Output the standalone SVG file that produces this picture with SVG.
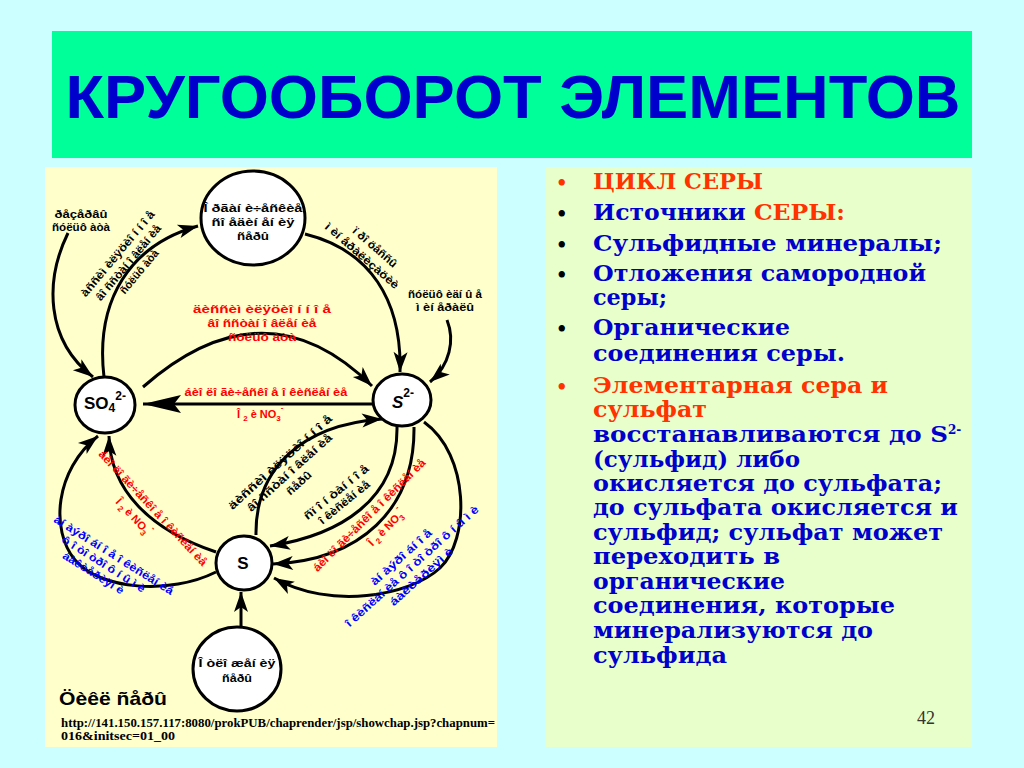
<svg xmlns="http://www.w3.org/2000/svg" width="1024" height="768" viewBox="0 0 1024 768">
<defs>
<style>
.t{font-family:"Liberation Sans",Arial,sans-serif;font-weight:bold;font-size:11px}
.k{fill:#000}.r{fill:#f00}.b{fill:#00f}
.c{fill:none;stroke:#000;stroke-width:3}
.n{fill:#fff;stroke:#000;stroke-width:3}
.rt{font-family:"DejaVu Serif","Liberation Serif",serif;font-weight:bold;font-size:22px;fill:#0000cc}
.o{fill:#ff3300}
.bu{font-family:"DejaVu Serif",serif;font-weight:bold;font-size:18px}
</style>
<marker id="ah" markerUnits="userSpaceOnUse" viewBox="0 0 30 20" markerWidth="30" markerHeight="20" refX="22" refY="8" orient="auto" overflow="visible"><path d="M22,8 L2,1 L7,8 L2,15 Z" fill="#000"/></marker>
<marker id="ahb" markerUnits="userSpaceOnUse" viewBox="0 0 44 20" markerWidth="44" markerHeight="20" refX="40" refY="10" orient="auto" overflow="visible"><path d="M40,10 L2,1 L9,10 L2,19 Z" fill="#000"/></marker>
</defs>
<rect x="0" y="0" width="1024" height="768" fill="#ccffff"/>
<g id="title">
<rect x="52" y="31" width="920" height="127" fill="#00ff99"/>
<text x="513" y="118" text-anchor="middle" textLength="895" lengthAdjust="spacingAndGlyphs" style="font-family:'Liberation Sans',Arial,sans-serif;font-weight:bold;font-size:61px;fill:#0000cc">КРУГООБОРОТ ЭЛЕМЕНТОВ</text>
</g>
<rect id="left-panel" x="45" y="167" width="452" height="580" fill="#ffffcc"/>
<rect id="right-panel" x="546" y="167" width="426" height="580" fill="#e8ffcc"/>

<g id="connectors">
<path class="c" d="M68 233 C45 280 45 340 93 377" marker-end="url(#ah)"/>
<path class="c" d="M104 377 C95 300 130 245 198 226" marker-end="url(#ah)"/>
<path class="c" d="M305 234 C370 250 402 300 400 372" marker-end="url(#ah)"/>
<path class="c" d="M447 320 C455 340 450 365 430 382" marker-end="url(#ah)"/>
<path class="c" d="M143 387 Q265 280 372 386" marker-end="url(#ah)"/>
<path class="c" d="M372 404 L143 404" marker-end="url(#ahb)"/>
<path class="c" d="M216 552 C150 530 110 490 109 436" marker-end="url(#ah)"/>
<path class="c" d="M216 572 C170 595 100 590 75 560 C50 530 55 470 98 436" marker-end="url(#ah)"/>
<path class="c" d="M256 535 C255 470 300 425 382 419" marker-end="url(#ah)"/>
<path class="c" d="M397 427 C398 500 340 535 270 546" marker-end="url(#ah)"/>
<path class="c" d="M414 427 C415 510 360 560 273 564" marker-end="url(#ah)"/>
<path class="c" d="M424 422 C470 455 470 540 440 568 C410 596 330 610 274 578" marker-end="url(#ah)"/>
<path class="c" d="M241 627 L241 592" marker-end="url(#ah)"/>
</g>

<g id="connector-labels" class="t">
<text class="k" x="81" y="218" text-anchor="middle" textLength="53" lengthAdjust="spacingAndGlyphs">ðåçåðâû</text>
<text class="k" x="81" y="231" text-anchor="middle" textLength="58" lengthAdjust="spacingAndGlyphs">ñóëüô àòà</text>
<g transform="translate(117.5,253.5) rotate(-50)">
<text class="k" x="0" y="4" text-anchor="middle" textLength="108" lengthAdjust="spacingAndGlyphs">àññèì èëÿöèî í í î å</text>
<text class="k" x="0" y="18" text-anchor="middle" textLength="95" lengthAdjust="spacingAndGlyphs">âî ññòàí î âëåí èå</text>
<text class="k" x="0" y="32" text-anchor="middle" textLength="54" lengthAdjust="spacingAndGlyphs">ñóëüô àòà</text>
</g>
<g transform="translate(375,247) rotate(41)">
<text class="k" x="0" y="4" text-anchor="middle" textLength="55" lengthAdjust="spacingAndGlyphs">ï ðî öåññû</text>
<text class="k" x="-4" y="19" text-anchor="middle" textLength="94" lengthAdjust="spacingAndGlyphs">ì èí åðàëèçàöèè</text>
</g>
<text class="k" x="445" y="298" text-anchor="middle" textLength="74" lengthAdjust="spacingAndGlyphs">ñóëüô èäí û å</text>
<text class="k" x="445" y="311" text-anchor="middle" textLength="58" lengthAdjust="spacingAndGlyphs">ì èí åðàëû</text>
<text class="r" x="262" y="313" text-anchor="middle" textLength="138" lengthAdjust="spacingAndGlyphs">äèññèì èëÿöèî í í î å</text>
<text class="r" x="262" y="327" text-anchor="middle" textLength="109" lengthAdjust="spacingAndGlyphs">âî ññòàí î âëåí èå</text>
<text class="r" x="262" y="341" text-anchor="middle" textLength="68" lengthAdjust="spacingAndGlyphs">ñóëüô àòà</text>
<text class="r" x="266" y="396" text-anchor="middle" textLength="163" lengthAdjust="spacingAndGlyphs">áèî ëî ãè÷åñêî å î êèñëåí èå</text>
<text class="r" x="237" y="418">Î <tspan dy="3" font-size="8">2</tspan><tspan dy="-3"> è NO</tspan><tspan dy="3" font-size="8">3</tspan><tspan dy="-11" font-size="8">-</tspan></text>
<g transform="translate(153,508) rotate(47)">
<text class="r" x="0" y="4" text-anchor="middle" textLength="153" lengthAdjust="spacingAndGlyphs">áèî ëî ãè÷åñêî å î êèñëåí èå</text>
<text class="r" x="-30" y="24">Î <tspan dy="3" font-size="8">2</tspan><tspan dy="-3"> è NO</tspan><tspan dy="3" font-size="8">3</tspan><tspan dy="-11" font-size="8">-</tspan></text>
</g>
<g transform="translate(114,555) rotate(32)">
<text class="b" x="0" y="4" text-anchor="middle" textLength="139" lengthAdjust="spacingAndGlyphs">àí àýðî áí î å î êèñëåí èå</text>
<text class="b" x="-4" y="17" text-anchor="middle" textLength="96" lengthAdjust="spacingAndGlyphs">ô î òî òðî ô í û ì è</text>
<text class="b" x="-8" y="30" text-anchor="middle" textLength="70" lengthAdjust="spacingAndGlyphs">áàêòåðèÿì è</text>
</g>
<g transform="translate(280,462) rotate(-42)">
<text class="k" x="0" y="4" text-anchor="middle" textLength="135" lengthAdjust="spacingAndGlyphs">äèññèì èëÿöèî í í î å</text>
<text class="k" x="0" y="18" text-anchor="middle" textLength="110" lengthAdjust="spacingAndGlyphs">âî ññòàí î âëåí èå</text>
<text class="k" x="0" y="32" text-anchor="middle" textLength="30" lengthAdjust="spacingAndGlyphs">ñåðû</text>
</g>
<g transform="translate(336,492) rotate(-39)">
<text class="k" x="0" y="4" text-anchor="middle" textLength="80" lengthAdjust="spacingAndGlyphs">ñï î í òàí í î å</text>
<text class="k" x="0" y="17" text-anchor="middle" textLength="62" lengthAdjust="spacingAndGlyphs">î êèñëåí èå</text>
</g>
<g transform="translate(369,515) rotate(-45)">
<text class="r" x="0" y="4" text-anchor="middle" textLength="154" lengthAdjust="spacingAndGlyphs">áèî ëî ãè÷åñêî å î êèñëåí èå</text>
<text class="r" x="-20" y="25">Î <tspan dy="3" font-size="8">2</tspan><tspan dy="-3"> è NO</tspan><tspan dy="3" font-size="8">3</tspan><tspan dy="-11" font-size="8">-</tspan></text>
</g>
<g transform="translate(401,557) rotate(-42)">
<text class="b" x="0" y="4" text-anchor="middle" textLength="78" lengthAdjust="spacingAndGlyphs">àí àýðî áí î å</text>
<text class="b" x="2" y="18" text-anchor="middle" textLength="175" lengthAdjust="spacingAndGlyphs">î êèñëåí èå ô î òî òðî ô í û ì è</text>
<text class="b" x="2" y="32" text-anchor="middle" textLength="81" lengthAdjust="spacingAndGlyphs">áàêòåðèÿì è</text>
</g>
</g>

<g id="node-organic" class="t">
<ellipse class="n" cx="253" cy="218" rx="52" ry="47"/>
<text class="k" x="253" y="212" text-anchor="middle" textLength="99" lengthAdjust="spacingAndGlyphs">Î ðãàí è÷åñêèå</text>
<text class="k" x="253" y="226" text-anchor="middle" textLength="83" lengthAdjust="spacingAndGlyphs">ñî åäèí åí èÿ</text>
<text class="k" x="253" y="240" text-anchor="middle" textLength="32" lengthAdjust="spacingAndGlyphs">ñåðû</text>
</g>
<g id="node-so4" class="t">
<ellipse class="n" cx="105" cy="405" rx="30" ry="28"/>
<text class="k" x="84" y="409" font-size="17">SO<tspan font-size="12" dy="3">4</tspan><tspan font-size="12" dy="-12">2-</tspan></text>
</g>
<g id="node-s2" class="t">
<ellipse class="n" cx="402" cy="400" rx="29" ry="26"/>
<text class="k" x="392" y="408" font-size="17" font-style="italic">S<tspan font-size="12" font-style="normal" dy="-11">2-</tspan></text>
</g>
<g id="node-s" class="t">
<ellipse class="n" cx="244" cy="563" rx="28" ry="27"/>
<text class="k" x="243" y="569" font-size="17" text-anchor="middle">S</text>
</g>
<g id="node-deposits" class="t">
<ellipse class="n" cx="237" cy="669" rx="44" ry="42"/>
<text class="k" x="237" y="667" text-anchor="middle" textLength="77" lengthAdjust="spacingAndGlyphs">Î òëî æåí èÿ</text>
<text class="k" x="237" y="682" text-anchor="middle" textLength="30" lengthAdjust="spacingAndGlyphs">ñåðû</text>
</g>

<g id="caption">
<text x="59" y="705" textLength="108" lengthAdjust="spacingAndGlyphs" style="font-family:'Liberation Sans',Arial,sans-serif;font-weight:bold;font-size:19px;fill:#000">Öèêë ñåðû</text>
<text x="61" y="727" textLength="434" lengthAdjust="spacingAndGlyphs" style="font-family:'Liberation Serif','Times New Roman',serif;font-weight:bold;font-size:12px;fill:#000">http://141.150.157.117:8080/prokPUB/chaprender/jsp/showchap.jsp?chapnum=</text>
<text x="61" y="740" textLength="114" lengthAdjust="spacingAndGlyphs" style="font-family:'Liberation Serif','Times New Roman',serif;font-weight:bold;font-size:12px;fill:#000">016&amp;initsec=01_00</text>
</g>

<g id="text-panel">
<text class="bu o" x="556" y="189">•</text>
<text class="bu" x="556" y="220">•</text>
<text class="bu" x="556" y="251">•</text>
<text class="bu" x="556" y="281">•</text>
<text class="bu" x="556" y="335">•</text>
<text class="bu o" x="556" y="393">•</text>
<text class="rt o" x="593" y="189" textLength="170" lengthAdjust="spacingAndGlyphs">ЦИКЛ СЕРЫ</text>
<text class="rt" x="593" y="220" textLength="252" lengthAdjust="spacingAndGlyphs">Источники <tspan class="o">СЕРЫ:</tspan></text>
<text class="rt" x="593" y="251" textLength="349" lengthAdjust="spacingAndGlyphs">Сульфидные  минералы;</text>
<text class="rt" x="593" y="281" textLength="333" lengthAdjust="spacingAndGlyphs">Отложения самородной</text>
<text class="rt" x="593" y="305" textLength="74" lengthAdjust="spacingAndGlyphs">серы;</text>
<text class="rt" x="593" y="335" textLength="197" lengthAdjust="spacingAndGlyphs">Органические</text>
<text class="rt" x="593" y="361" textLength="252" lengthAdjust="spacingAndGlyphs">соединения серы.</text>
<text class="rt o" x="593" y="393" textLength="295" lengthAdjust="spacingAndGlyphs">Элементарная сера и</text>
<text class="rt o" x="593" y="417" textLength="114" lengthAdjust="spacingAndGlyphs">сульфат</text>
<text class="rt" x="593" y="442" textLength="355" lengthAdjust="spacingAndGlyphs">восстанавливаются до S</text>
<text class="rt" x="948" y="434" style="font-size:12px">2-</text>
<text class="rt" x="593" y="467" textLength="207" lengthAdjust="spacingAndGlyphs">(сульфид) либо</text>
<text class="rt" x="593" y="491" textLength="349" lengthAdjust="spacingAndGlyphs">окисляется до сульфата;</text>
<text class="rt" x="593" y="515" textLength="365" lengthAdjust="spacingAndGlyphs">до сульфата окисляется и</text>
<text class="rt" x="593" y="540" textLength="350" lengthAdjust="spacingAndGlyphs">сульфид; сульфат может</text>
<text class="rt" x="593" y="564" textLength="187" lengthAdjust="spacingAndGlyphs">переходить в</text>
<text class="rt" x="593" y="589" textLength="192" lengthAdjust="spacingAndGlyphs">органические</text>
<text class="rt" x="593" y="613" textLength="302" lengthAdjust="spacingAndGlyphs">соединения, которые</text>
<text class="rt" x="593" y="638" textLength="280" lengthAdjust="spacingAndGlyphs">минерализуются до</text>
<text class="rt" x="593" y="663" textLength="134" lengthAdjust="spacingAndGlyphs">сульфида</text>
<text x="917" y="724" style="font-family:'Liberation Serif','Times New Roman',serif;font-size:18px;fill:#333">42</text>
</g>
</svg>
